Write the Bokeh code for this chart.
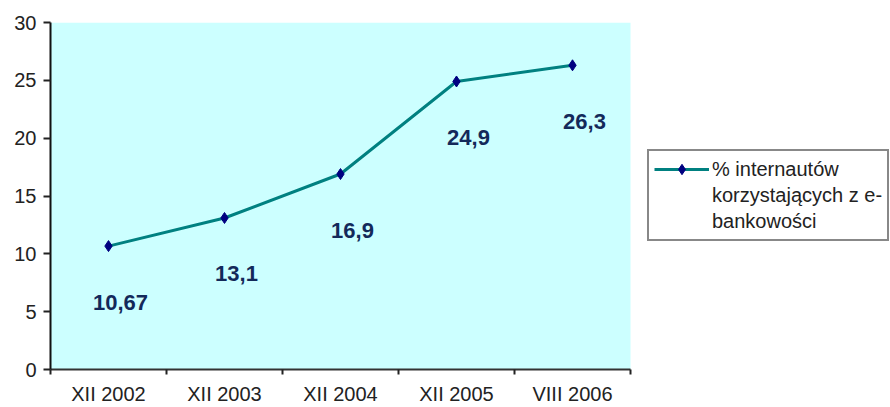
import numpy as np
from bokeh.plotting import figure
from bokeh.models import (Range1d, FixedTicker, Legend, LegendItem, ColumnDataSource,
                          BoxAnnotation)
from bokeh.embed import file_html
from bokeh.resources import INLINE
from bokeh.core.properties import value

categories = ["XII 2002", "XII 2003", "XII 2004", "XII 2005", "VIII 2006"]
values = [10.67, 13.1, 16.9, 24.9, 26.3]
y_ticks = [0, 5, 10, 15, 20, 25, 30]
legend_lines = ["% internautów", "korzystających z e-", "bankowości"]

FONT = "Liberation Sans"
n = len(categories)
PLOT_PX = 580          # width of the shaded plot area in pixels
FRAME_PX = 840         # frame spans to the right edge so the legend is not clipped

x = np.arange(n) + 0.5
labels = [f"{v:g}".replace(".", ",") for v in values]
src = ColumnDataSource(dict(x=x, y=values, label=labels))

p = figure(width=890, height=407, output_backend="svg", toolbar_location=None,
           x_range=Range1d(0, n * FRAME_PX / PLOT_PX), y_range=Range1d(0, 30),
           min_border_left=50, min_border_right=0, min_border_top=22,
           min_border_bottom=35)
p.background_fill_color = "white"
p.border_fill_color = "white"
p.outline_line_color = None
p.grid.visible = False

# shaded plot area covering the categories only
p.add_layout(BoxAnnotation(left=0, right=n, fill_color="#CCFFFF", fill_alpha=1,
                           line_color=None, level="underlay"))

# x axis: labels at category centres, tick marks at category boundaries
p.xaxis.bounds = (0, n)
p.xaxis.ticker = FixedTicker(ticks=list(x), minor_ticks=list(range(n + 1)))
p.xaxis.major_label_overrides = {float(xi): c for xi, c in zip(x, categories)}
p.xaxis.major_tick_out = 0
p.xaxis.major_tick_in = 0
p.xaxis.minor_tick_out = 5
p.xaxis.minor_tick_in = 0
p.xaxis.minor_tick_line_color = "#222222"
p.xaxis.minor_tick_line_width = 2
p.xaxis.axis_line_color = "#333333"
p.xaxis.axis_line_width = 2
p.xaxis.major_label_standoff = 8
p.xaxis.major_label_text_font = FONT
p.xaxis.major_label_text_font_size = "20px"
p.xaxis.major_label_text_color = "#222222"

# y axis
p.yaxis.ticker = FixedTicker(ticks=y_ticks)
p.yaxis.major_tick_out = 7
p.yaxis.major_tick_in = 0
p.yaxis.minor_tick_out = 0
p.yaxis.minor_tick_in = 0
p.yaxis.major_tick_line_width = 2
p.yaxis.major_tick_line_color = "#222222"
p.yaxis.axis_line_color = "#111111"
p.yaxis.axis_line_width = 2
p.yaxis.major_label_standoff = 7
p.yaxis.major_label_text_font = FONT
p.yaxis.major_label_text_font_size = "20px"
p.yaxis.major_label_text_color = "#222222"

r_line = p.line("x", "y", source=src, line_color="#008080", line_width=3)
r_pts = p.scatter("x", "y", source=src, marker="diamond", size=11,
                  fill_color="#000080", line_color="#000080")

p.text("x", "y", text="label", source=src, x_offset=12, y_offset=56,
       text_align="center", text_baseline="middle",
       text_font=value(FONT), text_font_size=value("22px"),
       text_font_style="bold", text_color="#13295a")

d1 = p.line(x=[], y=[], line_alpha=0)
d2 = p.line(x=[], y=[], line_alpha=0)

legend = Legend(items=[
    LegendItem(label=legend_lines[0], renderers=[r_line, r_pts]),
    LegendItem(label=legend_lines[1], renderers=[d1]),
    LegendItem(label=legend_lines[2], renderers=[d2]),
], location=(597, 128))
legend.padding = 5
legend.spacing = 0
legend.margin = 0
legend.label_height = 26
legend.glyph_height = 26
legend.glyph_width = 55
legend.label_standoff = 3
legend.border_line_color = "#111111"
legend.border_line_width = 2
legend.background_fill_color = "white"
legend.background_fill_alpha = 1
legend.label_text_font = FONT
legend.label_text_font_size = "20px"
legend.label_text_color = "#222222"
p.add_layout(legend, "center")

open("out.html", "w").write(file_html(p, INLINE))
